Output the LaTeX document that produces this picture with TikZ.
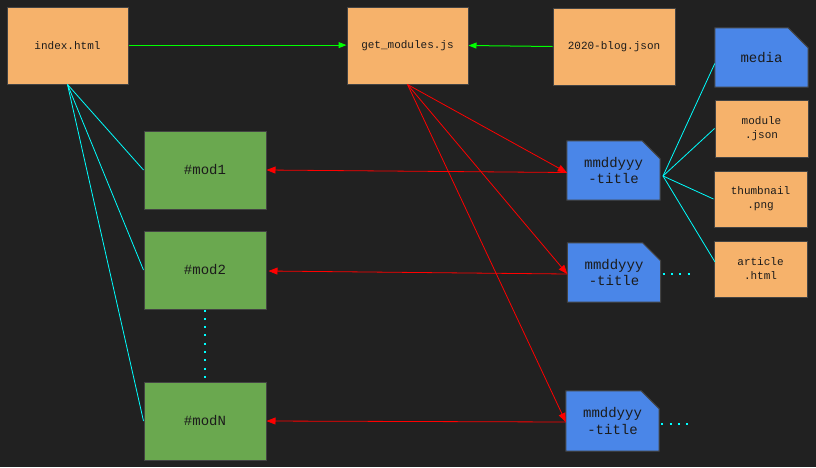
\documentclass[tikz,border=0pt]{standalone}
\usepackage{fontspec}
\setmonofont{Liberation Mono}
\usetikzlibrary{arrows.meta,backgrounds}
\definecolor{bgc}{HTML}{212121}
\definecolor{orangec}{HTML}{F6B26B}
\definecolor{greenc}{HTML}{6AA84F}
\definecolor{bluec}{HTML}{4A86E8}
\definecolor{edgec}{HTML}{434343}
\definecolor{txtc}{HTML}{1B1B1B}
\definecolor{cyanc}{HTML}{00FFFF}
\definecolor{redc}{HTML}{FF0000}
\definecolor{limec}{HTML}{00FF00}
\tikzset{
  box/.style={draw=edgec, line width=1pt, inner sep=0pt, font=\ttfamily\fontsize{11}{14}\selectfont, text=txtc, align=center},
  filebox/.style={box, fill=orangec, minimum width=121pt, minimum height=77pt},
  smallfile/.style={box, fill=orangec, minimum width=93pt, minimum height=57pt},
  modbox/.style={box, fill=greenc, minimum width=122pt, minimum height=78pt, font=\ttfamily\fontsize{14}{17}\selectfont},
  docbox/.style={inner sep=0pt, minimum width=93pt, minimum height=59pt, font=\ttfamily\fontsize{14}{16.7}\selectfont, text=txtc, align=center},
  docshape/.style={draw=edgec, line width=1pt, fill=bluec},
  greenarrow/.style={draw=limec, line width=1pt, -{Triangle[length=8pt,width=6pt]}},
  redarrow/.style={draw=redc, line width=0.8pt, -{Triangle[length=9pt,width=7pt]}},
  cyanline/.style={draw=cyanc, line width=0.8pt},
  cyandots/.style={draw=cyanc, line width=2pt, dash pattern=on 2pt off 6.3pt},
}
\newcommand\foldshape[2]{%
  \draw[docshape] (#1.north west) -- ([xshift=-#2]#1.north east) -- ([yshift=-#2]#1.north east) -- (#1.south east) -- (#1.south west) -- cycle;}
\begin{document}
\begin{tikzpicture}[x=1pt,y=-1pt]
\useasboundingbox (0,0) rectangle (816,467);
% file boxes
\node[filebox] (index) at (67.5,45.5) {index.html};
\node[filebox] (getmod) at (407.5,45.5) {get\_modules.js};
\node[filebox, minimum width=122pt] (blog) at (614,46.5) {2020-blog.json};
\node[docbox] (media) at (761.5,57.5) {media};
\node[smallfile] (module) at (761.5,128.5) {module\\.json};
\node[smallfile, minimum height=56pt] (thumb) at (760.5,199) {thumbnail\\.png};
\node[smallfile, minimum height=56pt] (article) at (760.5,269) {article\\.html};
% docs
\node[docbox] (doca) at (613.5,170.5) {mmddyyy\\-title};
\node[docbox] (docb) at (614,272.5) {mmddyyy\\-title};
\node[docbox, minimum height=60pt] (docc) at (612.5,421) {mmddyyy\\-title};
% modules
\node[modbox] (moda) at (205,170) {\#mod1};
\node[modbox] (modb) at (205,270) {\#mod2};
\node[modbox] (modn) at (205,421) {\#modN};
\begin{scope}[on background layer]
  \fill[bgc] (0,0) rectangle (816,467);
  \foldshape{media}{20pt}
  \foldshape{doca}{18pt}
  \foldshape{docb}{18pt}
  \foldshape{docc}{18pt}
\end{scope}
% green arrows
\draw[greenarrow] ([yshift=0.4pt]index.east) -- ([yshift=0.4pt]getmod.west);
\draw[greenarrow] (blog.west) -- (getmod.east);
% cyan from index
\draw[cyanline] (index.south) -- (moda.west);
\draw[cyanline] (index.south) -- (modb.west);
\draw[cyanline] (index.south) -- (modn.west);
% red from get_modules
\draw[redarrow] (getmod.south) -- ([yshift=-2pt]doca.west);
\draw[redarrow] (getmod.south) -- ([yshift=-1.5pt]docb.west);
\draw[redarrow] (getmod.south) -- ([yshift=-1pt]docc.west);
% red to modules
\draw[redarrow] ([yshift=-2pt]doca.west) -- (moda.east);
\draw[redarrow] ([yshift=-1.5pt]docb.west) -- ([xshift=2pt,yshift=-1pt]modb.east);
\draw[redarrow] ([yshift=-1pt]docc.west) -- (modn.east);
% cyan fan from first doc
\coordinate (hub) at (663,176);
\draw[cyanline] (hub) -- ([yshift=-6pt]media.west);
\draw[cyanline] (hub) -- (module.west);
\draw[cyanline] (hub) -- (thumb.west);
\draw[cyanline] (hub) -- ([xshift=1.5pt,yshift=7pt]article.west);
% dotted
\draw[cyandots] (modb.south) -- (modn.north);
\coordinate (dbend) at (692,274);
\coordinate (dcend) at (692,423.5);
\draw[cyandots] ([xshift=2pt,yshift=-1.5pt]docb.east) -- (dbend);
\draw[cyandots] ([xshift=2pt,yshift=-2.5pt]docc.east) -- (dcend);
\end{tikzpicture}
\end{document}
